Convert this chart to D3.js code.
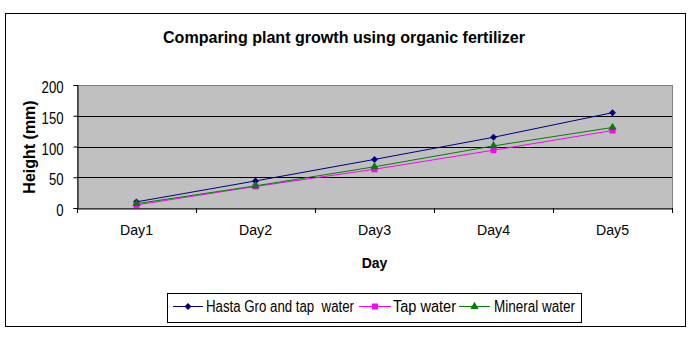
<!DOCTYPE html>
<html><head><meta charset="utf-8">
<script src="https://cdn.jsdelivr.net/npm/d3@7"></script>
<style>body{margin:0;background:#fff}svg{display:block}text{font-family:"Liberation Sans",Arial,sans-serif}</style>
</head><body>
<svg id="c" width="691" height="346"></svg>
<script>
const categories = ["Day1","Day2","Day3","Day4","Day5"];
const hasta = [10, 44, 79, 115, 155];
const tap = [5, 35, 63, 94, 126];
const mineral = [7, 36, 67, 101, 131];
const seriesNames = ["Hasta Gro and tap  water","Tap water","Mineral water"];
const yTicks = [0, 50, 100, 150, 200];

const NARROW = "'Liberation Sans Narrow','Arial Narrow','Liberation Sans',Arial,sans-serif";
const svg = d3.select("#c");
const M = {l:77, r:672, t:85, b:208};
svg.append("rect").attr("x",5.5).attr("y",13.5).attr("width",680).attr("height",313).attr("fill","#fff").attr("stroke","#000");

svg.append("text").attr("x",344).attr("y",43).attr("text-anchor","middle").attr("font-size",17).attr("font-weight","bold")
  .style("font-family",NARROW)
  .attr("textLength",362).attr("lengthAdjust","spacingAndGlyphs").text("Comparing plant growth using organic fertilizer");

const x = d3.scaleBand().domain(categories).range([M.l, M.r]);
const y = d3.scaleLinear().domain([0,200]).range([M.b, M.t]);

svg.append("rect").attr("x",M.l+0.5).attr("y",M.t+0.5).attr("width",M.r-M.l).attr("height",M.b-M.t).attr("fill","#c0c0c0").attr("stroke","#808080");
svg.append("g").selectAll("line").data(yTicks.filter(d=>d>0&&d<200)).join("line")
  .attr("x1",M.l).attr("x2",M.r).attr("y1",d=>Math.round(y(d))+0.5).attr("y2",d=>Math.round(y(d))+0.5).attr("stroke","#000");

// y axis
const ya = svg.append("g").attr("transform",`translate(${M.l+0.5},0)`).call(d3.axisLeft(y).tickValues(yTicks).tickSize(4).tickPadding(10));
ya.select(".domain").attr("stroke","#000");
ya.selectAll("text").attr("font-size",17).attr("fill","#000").attr("dy","0.45em").style("font-family",NARROW)
  .each(function(d){ const w = String(d).length*7.3; d3.select(this).attr("textLength",w).attr("lengthAdjust","spacingAndGlyphs"); });
ya.selectAll("line").attr("stroke","#000");
// x axis
const xa = svg.append("g").attr("transform",`translate(0,${M.b+0.5})`)
  .call(d3.axisBottom(x).tickSize(0).tickPadding(17));
xa.select(".domain").attr("stroke","#000");
xa.selectAll("text").attr("font-size",14).attr("fill","#000").style("font-family",NARROW)
  .attr("textLength",33).attr("lengthAdjust","spacingAndGlyphs");
const bounds = categories.map(c=>x(c)).concat([M.r]);
svg.append("g").selectAll("line").data(bounds).join("line")
  .attr("x1",d=>Math.round(d)+0.5).attr("x2",d=>Math.round(d)+0.5).attr("y1",M.b).attr("y2",M.b+5).attr("stroke","#000");

svg.append("text").attr("x",(M.l+M.r)/2).attr("y",268).attr("text-anchor","middle").attr("font-size",14).attr("font-weight","bold").text("Day");
svg.append("text").attr("transform","translate(35,147) rotate(-90)").attr("text-anchor","middle").attr("font-size",16).attr("font-weight","bold").text("Height (mm)");

const diamond = {draw(ctx, size){ const r=Math.sqrt(size)/2*1.414; ctx.moveTo(0,-r); ctx.lineTo(r,0); ctx.lineTo(0,r); ctx.lineTo(-r,0); ctx.closePath(); }};
const series = [
  {name:seriesNames[0], vals:hasta, color:"#000080", sym:diamond, size:24},
  {name:seriesNames[1], vals:tap, color:"#ff00ff", sym:d3.symbolSquare, size:36},
  {name:seriesNames[2], vals:mineral, color:"#008000", sym:d3.symbolTriangle, size:30}
];
const cx = c => x(c)+x.bandwidth()/2;
const line = d3.line().x((d,i)=>cx(categories[i])).y(d=>y(d));
for (const s of series) {
  svg.append("path").attr("d",line(s.vals)).attr("fill","none").attr("stroke",s.color).attr("stroke-width",1);
}
for (const s of series) {
  svg.append("g").selectAll("path").data(s.vals).join("path")
    .attr("transform",(d,i)=>`translate(${cx(categories[i])},${y(d)})`)
    .attr("d",d3.symbol().type(s.sym).size(s.size)).attr("fill",s.color);
}

// legend
svg.append("rect").attr("x",167.5).attr("y",293.5).attr("width",414).attr("height",29).attr("fill","#fff").attr("stroke","#000");
const lg = [{x1:173,x2:203,tx:206,tw:148},{x1:359,x2:391,tx:393,tw:63},{x1:459,x2:490,tx:494,tw:81}];
series.forEach((s,i)=>{
  const L = lg[i];
  svg.append("line").attr("x1",L.x1).attr("x2",L.x2).attr("y1",306.5).attr("y2",306.5).attr("stroke",s.color);
  svg.append("path").attr("transform",`translate(${(L.x1+L.x2)/2},306.5)`).attr("d",d3.symbol().type(s.sym).size(s.size)).attr("fill",s.color);
  svg.append("text").attr("x",L.tx).attr("y",311.5).attr("font-size",16).style("font-family",NARROW).attr("textLength",L.tw).attr("lengthAdjust","spacingAndGlyphs")
    .attr("xml:space","preserve").style("white-space","pre").text(s.name);
});
</script>
</body></html>
